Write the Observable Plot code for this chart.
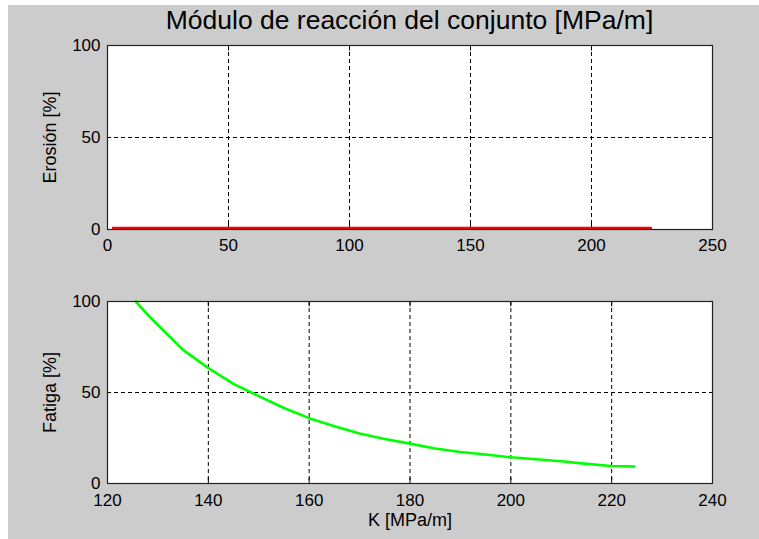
<!DOCTYPE html>
<html>
<head>
<meta charset="utf-8">
<script src="https://cdn.jsdelivr.net/npm/d3@7"></script>
<script src="https://cdn.jsdelivr.net/npm/@observablehq/plot@0.6"></script>
<style>
  html, body { margin: 0; padding: 0; background: #ffffff; }
  #page { position: relative; width: 759px; height: 539px; overflow: hidden; background: #ffffff; }
  #bg { position: absolute; left: 8px; top: 5px; width: 751px; height: 534px; background: #cccccc; }
  #title { position: absolute; left: 0; top: 4px; width: 819px; text-align: center;
           font-family: "Liberation Sans", Arial, sans-serif; font-size: 26.5px; line-height: 32px; color: #000; }
  .plotwrap { position: absolute; left: 0; }
  .plotwrap svg { display: block; }
</style>
</head>
<body>
<div id="page">
  <div id="bg"></div>
  <div id="title">Módulo de reacción del conjunto [MPa/m]</div>
  <div id="p1" class="plotwrap" style="top:0px"></div>
  <div id="p2" class="plotwrap" style="top:270px"></div>
</div>
<script>
// ---- data ----
const titleText = "Módulo de reacción del conjunto [MPa/m]";
const erosionLabel = "Erosión [%]";
const fatigaLabel = "Fatiga [%]";
const xLabel = "K [MPa/m]";

const erosionK = [2.3, 224.5];
const erosionPct = [0, 0];

const fatigaK =   [125.6, 128.5, 130, 135, 140, 145, 150, 155, 160, 165, 170, 175, 180, 185, 190, 195, 200, 205, 210, 215, 220, 224.5];
const fatigaPct = [100,   91.2,  87.1, 73.4, 63.4, 54.7, 48.0, 41.5, 35.9, 31.5, 27.5, 24.5, 21.9, 19.2, 17.3, 15.9, 14.4, 13.3, 12.2, 10.8, 9.6, 9.3];

const topXTicks = [0, 50, 100, 150, 200, 250];
const botXTicks = [120, 140, 160, 180, 200, 220, 240];
const yTicks = [0, 50, 100];

const erosion = erosionK.map((k, i) => ({k, v: erosionPct[i]}));
const fatiga = fatigaK.map((k, i) => ({k, v: fatigaPct[i]}));

const font = "Liberation Sans, Arial, sans-serif";
const grid = {stroke: "#000", strokeOpacity: 1, strokeWidth: 1, strokeDasharray: "4,3"};

function panel({height, marginTop, marginBottom, xDomain, xTicks, data, color, dy, yLabel, xLab, xPad}) {
  const innerX = xTicks.slice(1, -1);
  const marks = [
    Plot.frame({fill: "white", stroke: null}),
    Plot.gridX(innerX, grid),
    Plot.gridY([50], grid),
    Plot.axisX({ticks: xTicks, tickSize: 0, tickPadding: xPad, fontSize: 17, label: null, tickFormat: d => String(d)}),
    Plot.axisY({ticks: yTicks, tickSize: 0, tickPadding: 7, fontSize: 17, label: null, tickFormat: d => String(d)}),
    Plot.ruleX(innerX, {x: d => d, y1: 0, y2: 3, stroke: "#000", strokeWidth: 1}),
    Plot.ruleX(innerX, {x: d => d, y1: 97, y2: 100, stroke: "#000", strokeWidth: 1}),
    Plot.line(data, {x: "k", y: "v", stroke: color, strokeWidth: 2.6, dy: dy}),
    Plot.frame({stroke: "#222", strokeWidth: 1.2}),
    Plot.text([yLabel], {frameAnchor: "left", dx: -57, rotate: -90, fontSize: 18, fill: "#000", textAnchor: "middle"})
  ];
  if (xLab) marks.push(Plot.text([xLab], {frameAnchor: "bottom", dy: 37, fontSize: 18, fill: "#000", lineAnchor: "middle"}));
  return Plot.plot({
    width: 759, height, marginLeft: 107, marginRight: 47, marginTop, marginBottom,
    style: {background: "transparent", fontFamily: font, color: "#000", overflow: "visible"},
    x: {domain: xDomain},
    y: {domain: [0, 100]},
    marks
  });
}

document.getElementById("title").textContent = titleText;
document.getElementById("p1").appendChild(panel({
  height: 270, marginTop: 45, marginBottom: 41, xDomain: [0, 250], xTicks: topXTicks,
  data: erosion, color: "#ff0000", dy: -1.5, yLabel: erosionLabel, xLab: null, xPad: 9
}));
document.getElementById("p2").appendChild(panel({
  height: 269, marginTop: 31, marginBottom: 56, xDomain: [120, 240], xTicks: botXTicks,
  data: fatiga, color: "#00ff00", dy: 0, yLabel: fatigaLabel, xLab: xLabel, xPad: 10
}));
</script>
</body>
</html>
